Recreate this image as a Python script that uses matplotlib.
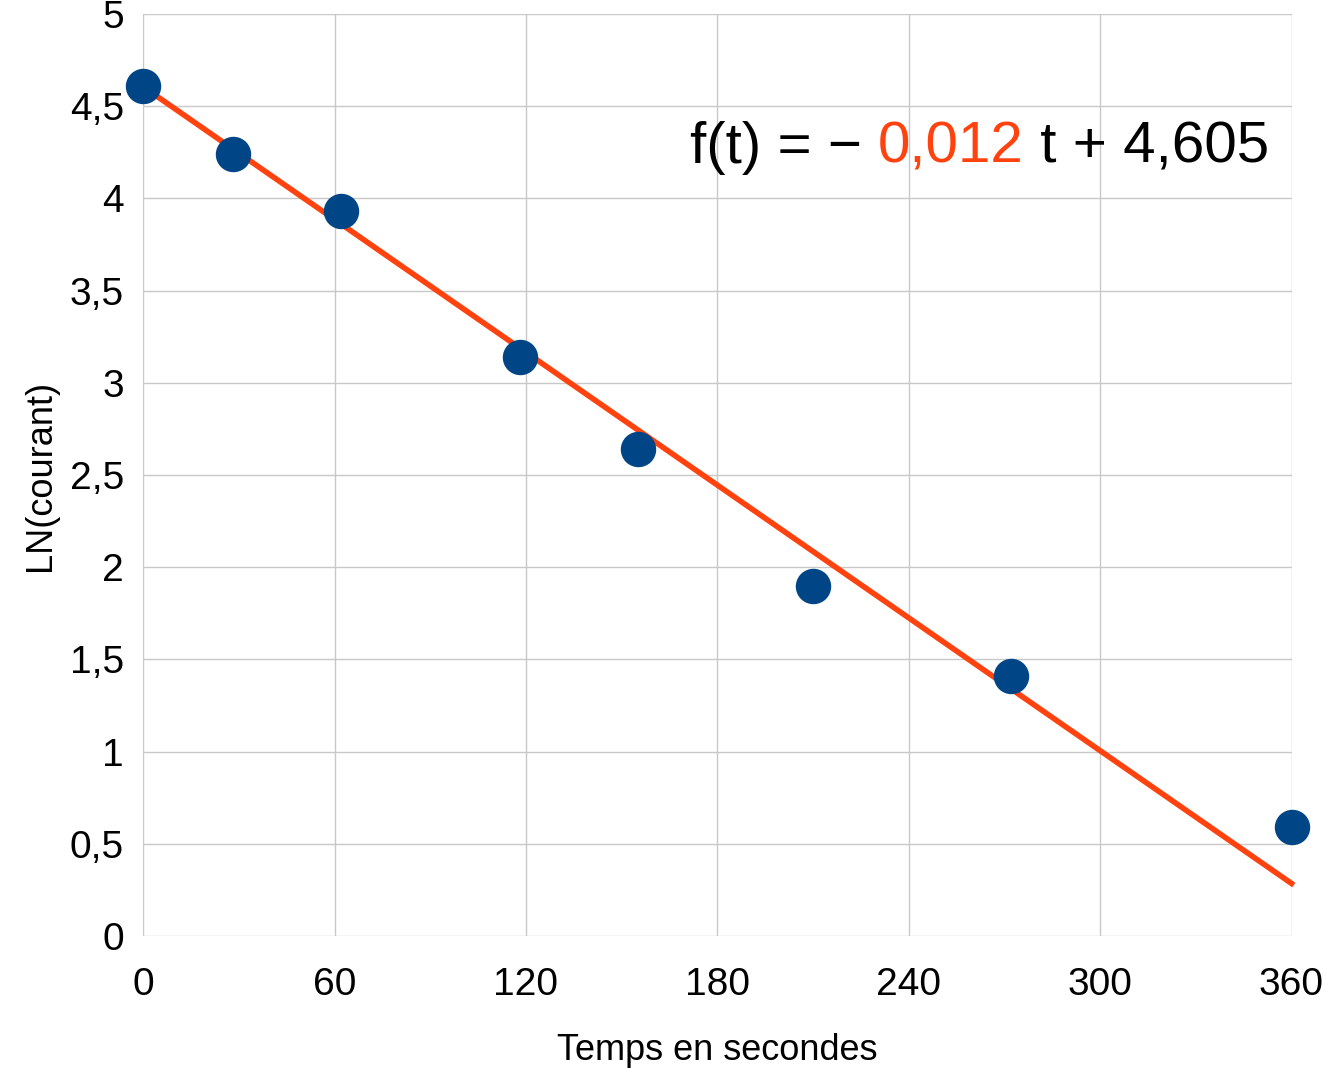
import numpy as np
import matplotlib.pyplot as plt
from matplotlib.ticker import FuncFormatter

plt.rcParams['font.family'] = ['Liberation Sans', 'DejaVu Sans']

temps = [0, 28, 62, 118, 155, 210, 272, 360]
ln_courant = [4.61, 4.24, 3.93, 3.14, 2.64, 1.90, 1.41, 0.59]
pente = -0.012
origine = 4.605

fig = plt.figure(figsize=(13.26, 10.69), dpi=100)
ax = fig.add_axes([0.108, 0.1244, 0.866, 0.8626])

t = np.array([0, 360])
ax.plot(t, pente * t + origine, color='#ff420e', lw=4, clip_on=False, zorder=2)
ax.scatter(temps, ln_courant, s=600, color='#004586', zorder=3, clip_on=False)

ax.set_xlim(0, 360)
ax.set_ylim(0, 5)
ax.set_xticks(range(0, 361, 60))
ax.set_yticks(np.arange(0, 5.01, 0.5))
ax.yaxis.set_major_formatter(FuncFormatter(lambda v, p: ('%g' % v).replace('.', ',')))
ax.grid(True, color='#c8c8c8', lw=1)
ax.set_axisbelow(True)
for s in ax.spines.values():
    s.set_visible(False)
ax.tick_params(axis='x', length=0, labelsize=28, pad=22)
ax.tick_params(axis='y', length=0, labelsize=28, pad=14)
ax.set_xlabel('Temps en secondes', fontsize=26, labelpad=22)
ax.set_ylabel('LN(courant)', fontsize=26, labelpad=8)

fs = 42
tx = ax.text(0.476, 0.855, 'f(t) = − ', transform=ax.transAxes, fontsize=fs, va='center')
fig.canvas.draw()
r = fig.canvas.get_renderer()
bb = tx.get_window_extent(r)
t2 = ax.annotate('0,012', xy=(bb.x1, bb.y0), xycoords='figure pixels', fontsize=fs,
                 color='#ff420e', va='bottom')
bb2 = t2.get_window_extent(r)
ax.annotate(' t + 4,605', xy=(bb2.x1, bb.y0), xycoords='figure pixels', fontsize=fs, va='bottom')

fig.savefig('out.png', dpi=100)
